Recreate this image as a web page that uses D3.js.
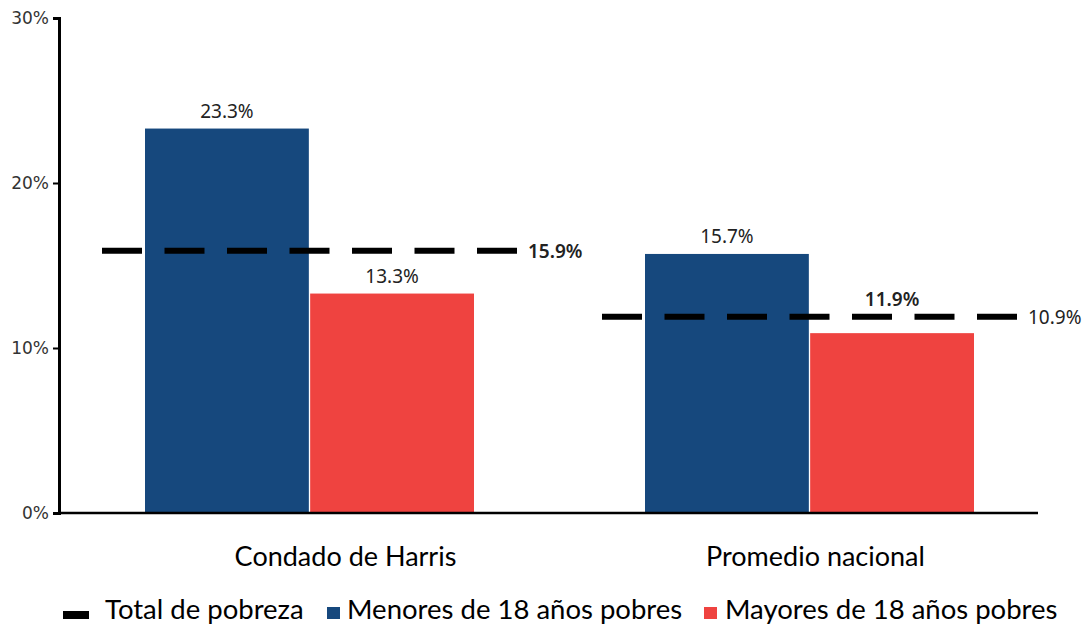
<!DOCTYPE html>
<html>
<head>
<meta charset="utf-8">
<script src="https://cdn.jsdelivr.net/npm/d3@7"></script>
<style>
  body { margin: 0; background: #fff; }
  svg { display: block; }
</style>
</head>
<body>
<script>
const width = 1086,
      height = 624;

// data
const categories = ["Condado de Harris", "Promedio nacional"];
const seriesNames = ["Menores de 18 años pobres", "Mayores de 18 años pobres"];
const menores = [23.3, 15.7];
const mayores = [13.3, 10.9];
const menoresLabels = ["23.3%", "15.7%"];
const mayoresLabels = ["13.3%", "11.9%"];
const mayoresLabelAt = [13.3, 11.9];
const totalPobreza = [15.9, 11.9];
const totalLabels = ["15.9%", "10.9%"];
const yTicks = [0, 10, 20, 30];
const colors = ["#16487d", "#ef4340"];

const labelFont = "'Noto Sans', 'Open Sans', sans-serif",
      bodyFont = "Lato, sans-serif";

const svg = d3.select("body")
              .append("svg")
              .attr("width", width)
              .attr("height", height);

const y = d3.scaleLinear().domain([0, 30]).range([513, 18]);

const x0 = d3.scaleBand()
             .domain(categories)
             .range([59, 1060])
             .paddingInner(0.342)
             .paddingOuter(0.172);

const x1 = d3.scaleBand()
             .domain(seriesNames)
             .range([0, x0.bandwidth()])
             .paddingInner(0.008);

// bars
const groups = svg.append("g")
  .selectAll("g")
  .data(categories)
  .join("g")
  .attr("transform", d => "translate(" + x0(d) + ",0)");

groups.each(function(cat, i) {
  const g = d3.select(this);
  const vals = [
    {s: seriesNames[0], v: menores[i], label: menoresLabels[i], at: menores[i], c: colors[0], bold: false},
    {s: seriesNames[1], v: mayores[i], label: mayoresLabels[i], at: mayoresLabelAt[i], c: colors[1], bold: i === 1}
  ];
  g.selectAll("rect")
   .data(vals)
   .join("rect")
   .attr("x", d => x1(d.s))
   .attr("y", d => y(d.v))
   .attr("width", x1.bandwidth())
   .attr("height", d => y(0) - y(d.v))
   .attr("fill", d => d.c);

  g.selectAll("text.val")
   .data(vals)
   .join("text")
   .attr("class", "val")
   .attr("x", d => x1(d.s) + x1.bandwidth() / 2)
   .attr("y", d => y(d.at) - 11)
   .attr("text-anchor", "middle")
   .attr("font-family", labelFont)
   .attr("font-size", 19)
   .attr("font-weight", d => d.bold ? 600 : 400)
   .attr("fill", "#222")
   .text(d => d.label);
});

// dashed total lines
categories.forEach((cat, i) => {
  const xs = x0(cat) - 43,
        xe = x0(cat) + x0.bandwidth() + 44;
  svg.append("line")
     .attr("x1", xs)
     .attr("x2", xe)
     .attr("y1", y(totalPobreza[i]))
     .attr("y2", y(totalPobreza[i]))
     .attr("stroke", "#000")
     .attr("stroke-width", 6)
     .attr("stroke-dasharray", "40,22.5");
  svg.append("text")
     .attr("x", xe + 10)
     .attr("y", y(totalPobreza[i]) + 7)
     .attr("font-family", labelFont)
     .attr("font-size", 19)
     .attr("font-weight", i === 0 ? 600 : 400)
     .attr("fill", "#222")
     .text(totalLabels[i]);
});

// y axis
const yAxis = svg.append("g")
  .attr("transform", "translate(59,0)")
  .call(d3.axisLeft(y).tickValues(yTicks).tickFormat(d => d + "%").tickSize(6).tickSizeOuter(6));
yAxis.select(".domain").attr("stroke", "#000").attr("stroke-width", 3);
yAxis.selectAll(".tick line").attr("stroke", "#000").attr("stroke-width", 2);
yAxis.selectAll(".tick text")
     .attr("font-family", "'DejaVu Sans', sans-serif")
     .attr("font-size", 17)
     .attr("fill", "#333")
     .attr("dx", -1);

// x axis baseline
svg.append("line")
   .attr("x1", 58)
   .attr("x2", 1038)
   .attr("y1", y(0))
   .attr("y2", y(0))
   .attr("stroke", "#000")
   .attr("stroke-width", 2.5);

// category labels (slightly off-centre in the source)
const catNudge = [36, 6];
svg.append("g")
  .selectAll("text")
  .data(categories)
  .join("text")
  .attr("x", (d, i) => x0(d) + x0.bandwidth() / 2 + catNudge[i])
  .attr("y", 566)
  .attr("text-anchor", "middle")
  .attr("font-family", bodyFont)
  .attr("font-size", 27)
  .attr("fill", "#000")
  .text(d => d);

// legend
const legend = svg.append("g");
legend.append("rect").attr("x", 63).attr("y", 611).attr("width", 26).attr("height", 8).attr("fill", "#000");
legend.append("text").attr("x", 105).text("Total de pobreza");
legend.append("rect").attr("x", 327).attr("y", 607).attr("width", 13).attr("height", 12).attr("fill", colors[0]);
legend.append("text").attr("x", 347).text(seriesNames[0]);
legend.append("rect").attr("x", 704).attr("y", 607).attr("width", 13).attr("height", 12).attr("fill", colors[1]);
legend.append("text").attr("x", 725).text(seriesNames[1]);
legend.selectAll("text")
      .attr("y", 619)
      .attr("font-family", bodyFont)
      .attr("font-size", 27.5)
      .attr("fill", "#000");
</script>
</body>
</html>
